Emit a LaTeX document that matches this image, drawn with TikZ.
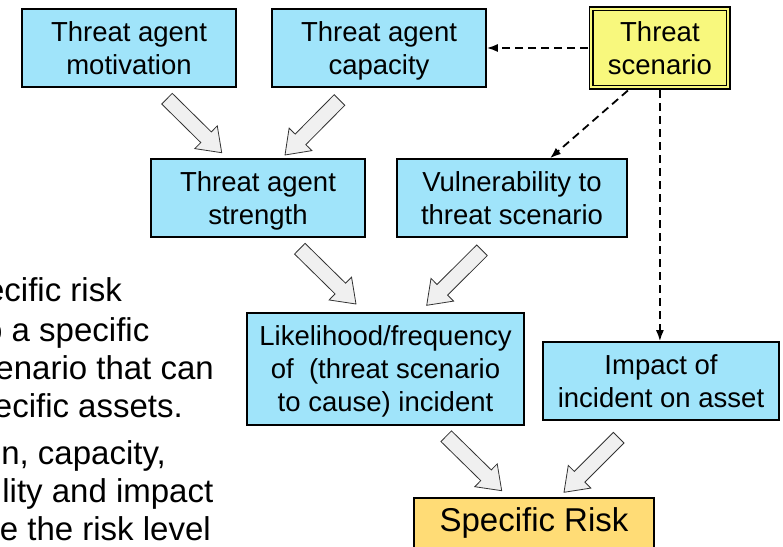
\documentclass[tikz,border=0pt]{standalone}
\usepackage{fontspec}
\setmainfont{Liberation Sans}
\usetikzlibrary{calc,arrows.meta}

\definecolor{boxcyan}{RGB}{160,228,250}
\definecolor{scenyellow}{RGB}{248,248,125}
\definecolor{riskgold}{RGB}{255,220,118}
\definecolor{arrowgray}{RGB}{240,240,240}

\tikzset{
  box/.style={draw=black, line width=1.5pt, fill=boxcyan, inner sep=0pt,
    align=center, text depth=0pt, font=\fontsize{27.5}{33}\selectfont},
  scenbox/.style={box, fill=scenyellow, double=scenyellow, double distance=2pt},
  riskbox/.style={box, fill=riskgold, line width=1.2pt, text height=23.5pt, text depth=26pt,
    font=\fontsize{33}{38}\selectfont},
  bodytext/.style={inner sep=0pt, anchor=base east, font=\fontsize{33}{38.5}\selectfont},
  dasharrow/.style={line width=1.8pt, dash pattern=on 8pt off 5pt,
    -{Latex[length=11pt,width=8pt]}},
  fatarr/.style={draw=black!80, line width=0.8pt, fill=arrowgray, line join=miter},
}

% broad hollow arrow from #1 (tail) to #2 (tip)
\newcommand\fatarrow[2]{%
  \coordinate (#1-base) at ($(#2)!22pt!(#1)$);
  \draw[fatarr] ($(#1)!7.5pt!90:(#2)$) -- ($(#1-base)!7.5pt!-90:(#1)$)
    -- ($(#1-base)!16pt!-90:(#1)$) -- (#2) -- ($(#1-base)!16pt!90:(#1)$)
    -- ($(#1-base)!7.5pt!90:(#1)$) -- ($(#1)!7.5pt!-90:(#2)$) -- cycle;
}

\begin{document}
\begin{tikzpicture}[x=1pt, y=1pt]
  \useasboundingbox (0,0) rectangle (783,546);
  \clip (0,0) rectangle (783,546);

  % explanatory text beside the diagram
  \node[bodytext] (t1) at (122,244.3) {ecific risk};
  \node[bodytext] (t2) at (149.5,204.3) {o a specific};
  \node[bodytext] (t3) at (214,166) {enario that can};
  \node[bodytext] (t4) at (183,128.3) {ecific assets.};
  \node[bodytext] (t5) at (166,82) {n, capacity,};
  \node[bodytext] (t6) at (213.5,44) {lity and impact};
  \node[bodytext] (t7) at (211,6) {e the risk level};

  % boxes
  \node[box, minimum width=214pt, minimum height=78pt] (mot) at (129,498) {Threat agent\\motivation};
  \node[box, minimum width=214pt, minimum height=78pt] (cap) at (379,498) {Threat agent\\capacity};
  \node[scenbox, minimum width=137pt, minimum height=78.5pt] (scen) at (659.9,498) {Threat\\scenario};
  \node[box, minimum width=214pt, minimum height=78pt] (str) at (258,348) {Threat agent\\strength};
  \node[box, minimum width=230pt, minimum height=78pt] (vul) at (512,348) {Vulnerability to\\threat scenario};
  \node[box, minimum width=277pt, minimum height=112pt] (lik) at (385.5,177) {Likelihood/frequency\\of\ \ (threat scenario\\to cause) incident};
  \node[box, minimum width=236pt, minimum height=78pt] (imp) at (661,165) {Impact of\\incident on asset};
  \node[riskbox, minimum width=240pt, minimum height=70pt] (risk) at (534,13) {Specific Risk};

  % dashed influence arrows from the threat scenario
  \draw[dasharrow] ([xshift=-2.5pt]scen.west) -- (cap.east);
  \draw[dasharrow] ([xshift=-32pt,yshift=-2.5pt]scen.south) -- ([xshift=38pt]vul.north);
  \draw[dasharrow] ([yshift=-2.5pt]scen.south) -- (scen.south |- imp.north);

  % broad arrows between the levels
  \coordinate (a1) at (167,447.3);   \coordinate (a1h) at (221.7,393.3);
  \coordinate (a2) at (339.5,446);   \coordinate (a2h) at (285,391);
  \coordinate (a3) at (299.8,297.3); \coordinate (a3h) at (356,242);
  \coordinate (a4) at (482,295.7);   \coordinate (a4h) at (426.7,240.7);
  \coordinate (a5) at (446.2,109.8); \coordinate (a5h) at (501.7,55.3);
  \coordinate (a6) at (618.7,108.3); \coordinate (a6h) at (564,53.7);
  \fatarrow{a1}{a1h}
  \fatarrow{a2}{a2h}
  \fatarrow{a3}{a3h}
  \fatarrow{a4}{a4h}
  \fatarrow{a5}{a5h}
  \fatarrow{a6}{a6h}
\end{tikzpicture}
\end{document}
